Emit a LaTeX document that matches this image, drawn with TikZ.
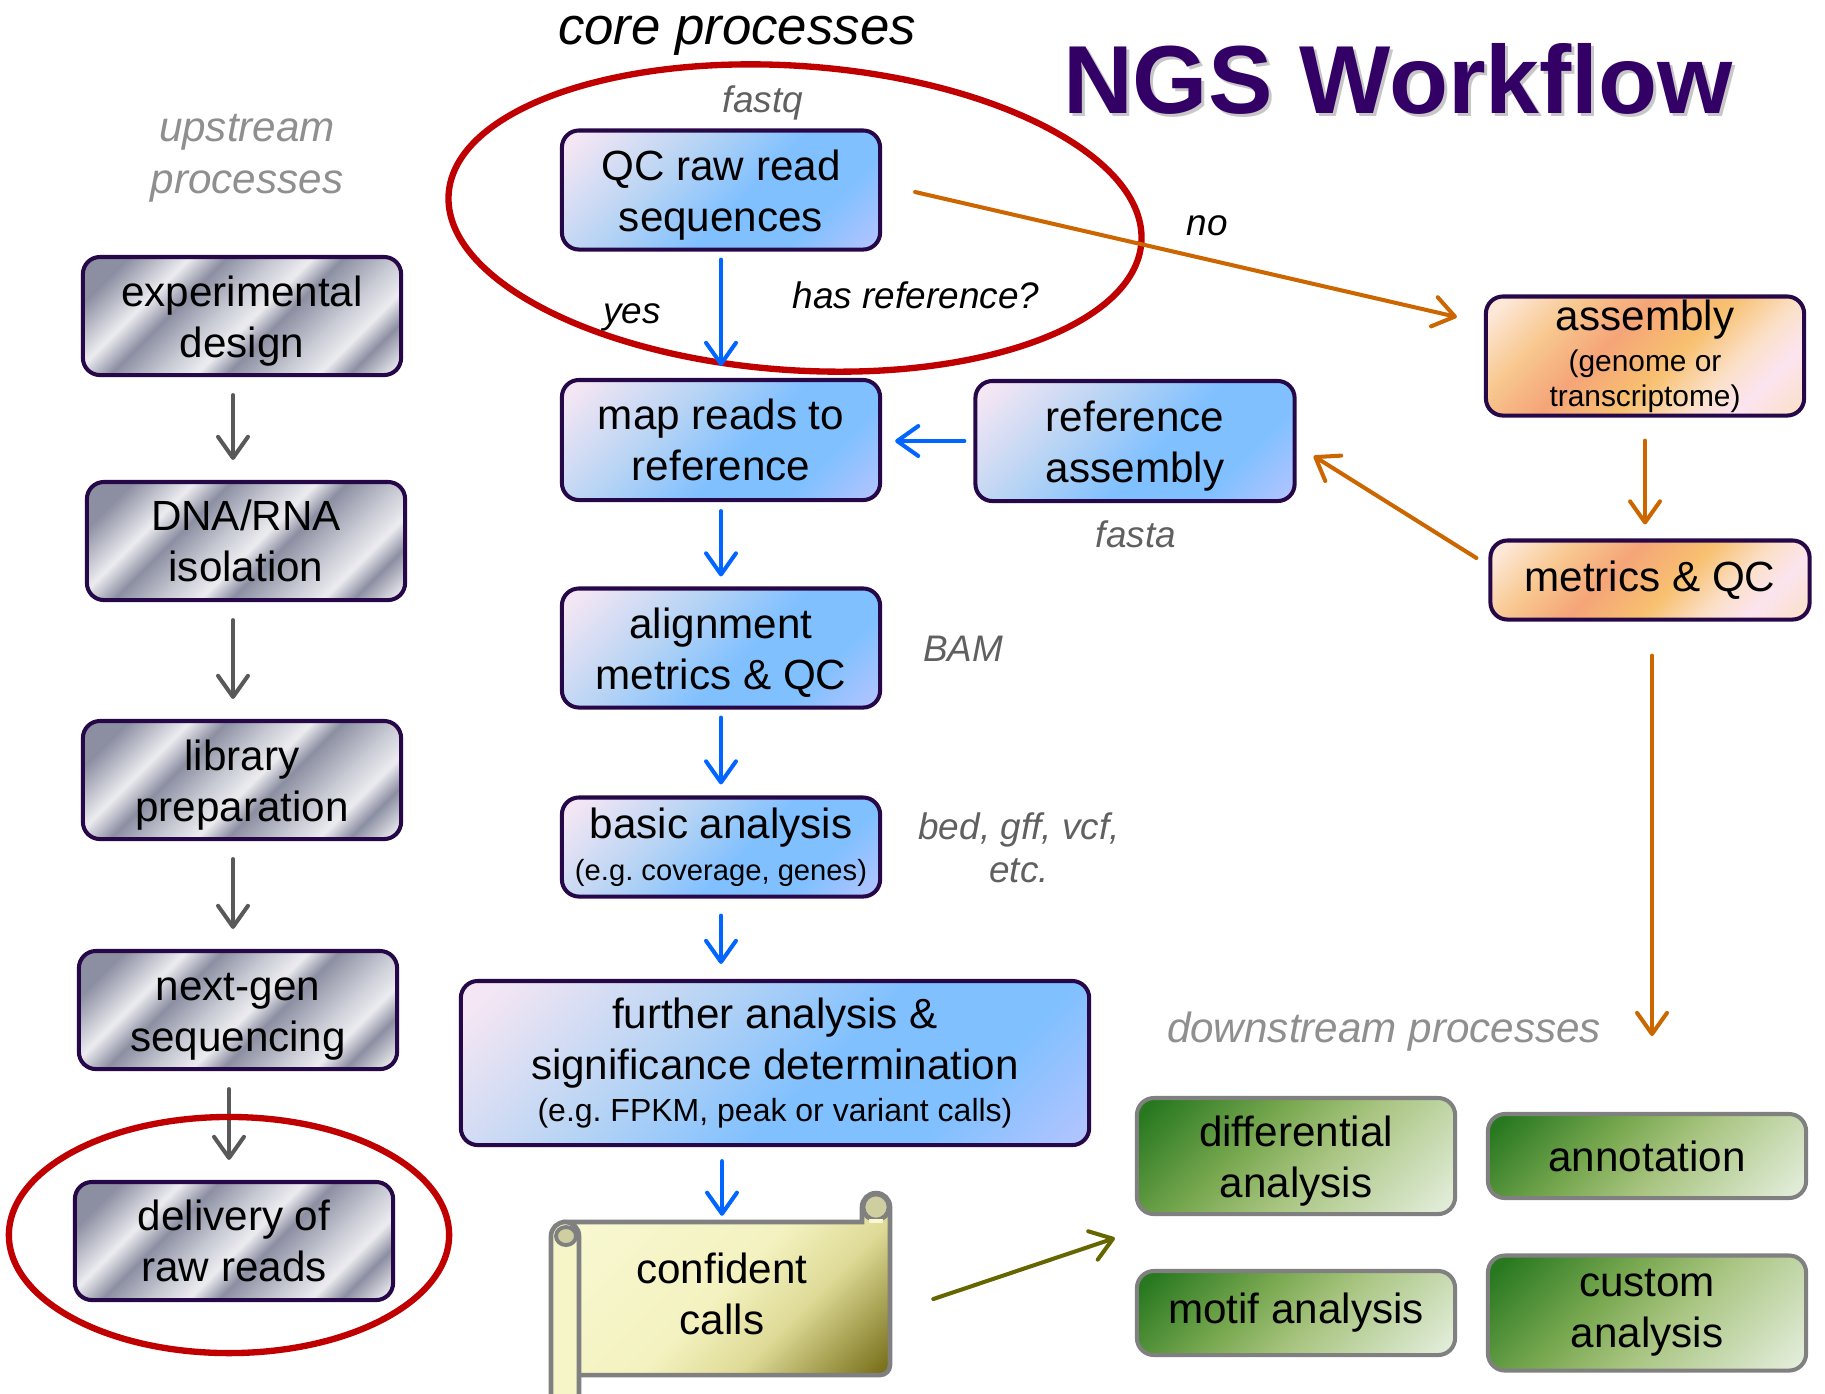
\documentclass[tikz,border=0pt]{standalone}
\usepackage{fontspec}
\setmainfont{Liberation Sans}
\usetikzlibrary{arrows.meta,calc}
\frenchspacing
\newcommand{\upsp}{\rule{0pt}{11.5pt}}

\definecolor{boxborder}{RGB}{38,8,72}
\definecolor{titlepurple}{RGB}{51,0,102}
\definecolor{redring}{RGB}{192,0,0}
\definecolor{arrgray}{RGB}{89,89,89}
\definecolor{arrblue}{RGB}{0,102,255}
\definecolor{arrorange}{RGB}{204,102,0}
\definecolor{arrolive}{RGB}{102,102,0}
\definecolor{lblgray}{RGB}{96,96,96}
\definecolor{lightlbl}{RGB}{143,143,143}
\definecolor{grayedge}{RGB}{128,128,128}
\definecolor{mA}{RGB}{140,143,162}
\definecolor{mM}{RGB}{200,202,212}
\definecolor{mL}{RGB}{236,236,240}
\definecolor{bP}{RGB}{244,230,244}
\definecolor{bM}{RGB}{184,212,244}
\definecolor{bB}{RGB}{128,192,255}
\definecolor{bL}{RGB}{176,196,255}
\definecolor{oA}{RGB}{253,232,216}
\definecolor{oB}{RGB}{248,200,144}
\definecolor{oC}{RGB}{245,165,120}
\definecolor{oD}{RGB}{248,192,112}
\definecolor{oE}{RGB}{252,228,240}
\definecolor{oF}{RGB}{251,224,200}
\definecolor{gA}{RGB}{40,120,32}
\definecolor{gB}{RGB}{120,168,80}
\definecolor{gC}{RGB}{168,196,128}
\definecolor{gD}{RGB}{228,238,220}
\definecolor{sA}{RGB}{248,248,210}
\definecolor{sB}{RGB}{244,242,192}
\definecolor{sC}{RGB}{222,218,150}
\definecolor{sD}{RGB}{120,112,26}
\definecolor{rollfill}{RGB}{245,245,200}
\definecolor{curlfill}{RGB}{206,206,160}

\pgfdeclarehorizontalshading{metalsh}{100bp}{color(0bp)=(mA); color(22bp)=(mA); color(32bp)=(mL); color(38bp)=(mA); color(46bp)=(mM); color(52bp)=(mL); color(57bp)=(mA); color(66bp)=(mM); color(72bp)=(mL); color(77bp)=(mA); color(84bp)=(mL); color(100bp)=(mL)}
\pgfdeclarehorizontalshading{bluesh}{100bp}{color(0bp)=(bP); color(18bp)=(bP); color(38bp)=(bM); color(55bp)=(bB); color(70bp)=(bB); color(84bp)=(bL); color(100bp)=(bL)}
\pgfdeclarehorizontalshading{orangesh}{100bp}{color(0bp)=(oA); color(18bp)=(oA); color(30bp)=(oB); color(42bp)=(oC); color(55bp)=(oD); color(66bp)=(oF); color(74bp)=(oE); color(84bp)=(oF); color(100bp)=(oF)}
\pgfdeclarehorizontalshading{greensh}{100bp}{color(0bp)=(gA); color(18bp)=(gA); color(40bp)=(gB); color(55bp)=(gC); color(84bp)=(gD); color(100bp)=(gD)}
\pgfdeclarehorizontalshading{scrollsh}{100bp}{color(0bp)=(sA); color(20bp)=(sA); color(50bp)=(sB); color(64bp)=(sC); color(84bp)=(sD); color(100bp)=(sD)}

\begin{document}
\begin{tikzpicture}[x=0.01cm,y=-0.01cm,
  box/.style={rounded corners=0.17cm, line width=1.15pt, draw=boxborder, inner sep=0pt,
    align=center, font=\fontsize{12}{14.5}\selectfont, shading angle=-45},
  metalbox/.style={box, shading=metalsh, shading angle=-45, minimum width=3.18cm, minimum height=1.18cm},
  bluebox/.style={box, shading=bluesh, shading angle=-45},
  orangebox/.style={box, shading=orangesh, shading angle=-45},
  greenbox/.style={box, draw=grayedge, shading=greensh, shading angle=-45, minimum width=3.18cm},
  arr/.style={line width=1.15pt, line cap=round, -{Straight Barb[length=6pt,width=8.5pt,round]}},
  garrow/.style={arr, draw=arrgray, shorten <=0.18cm, shorten >=0.2cm},
  barrow/.style={arr, draw=arrblue},
  oarrow/.style={arr, draw=arrorange},
  olarrow/.style={arr, draw=arrolive},
  lbl/.style={inner sep=0pt, anchor=base, font=\fontsize{10.5}{12.6}\selectfont\itshape},
  glbl/.style={lbl, text=lblgray},
  ring/.style={draw=redring, line width=1.8pt}
]
\useasboundingbox (0,0) rectangle (1825,1393);

% title
\node[inner sep=0pt, anchor=base, font=\fontsize{27.5}{30}\selectfont\bfseries, text=black!40, opacity=0.55] (titleshadow) at (1401,116) {NGS Workflow};
\node[inner sep=0pt, anchor=base, font=\fontsize{27.5}{30}\selectfont\bfseries, text=titlepurple] (title) at (1398,113) {NGS Workflow};

% section labels
\node[inner sep=0pt, anchor=base, font=\fontsize{15}{18}\selectfont\itshape] (lcore) at (737,44) {core processes};
\node[inner sep=0pt, align=center, text=lightlbl, font=\fontsize{12}{14.8}\selectfont\itshape] (lup) at (247,158) {upstream\\processes};
\node[inner sep=0pt, anchor=base, text=lightlbl, font=\fontsize{12}{14.5}\selectfont\itshape] (ldown) at (1384,1042) {downstream processes};

% upstream column
\node[metalbox] (exp) at (242,316) {\upsp experimental\\design};
\node[metalbox] (dna) at (246,541) {DNA/RNA\\isolation};
\node[metalbox] (lib) at (242,780) {\upsp library\\preparation};
\node[metalbox] (seq) at (238,1010) {\upsp next-gen\\sequencing};
\node[metalbox] (del) at (234,1241) {delivery of\\raw reads};

\draw[garrow] (233,0 |- exp.south) -- (233,0 |- dna.north);
\draw[garrow] (233,0 |- dna.south) -- (233,0 |- lib.north);
\draw[garrow] (233,0 |- lib.south) -- (233,0 |- seq.north);
\draw[garrow] (229,0 |- seq.south) -- (229,0 |- del.north);

\draw[ring] (229,1235) ellipse [x radius=2.2cm, y radius=1.18cm];

% core column
\node[bluebox, minimum width=3.18cm, minimum height=1.19cm] (qc) at (721,190) {\upsp QC raw read\\sequences};
\node[bluebox, minimum width=3.18cm, minimum height=1.2cm] (map) at (721,440) {map reads to\\reference};
\node[bluebox, minimum width=3.18cm, minimum height=1.19cm] (aln) at (721,648) {\upsp alignment\\metrics \& QC};
\node[bluebox, minimum width=3.18cm, minimum height=0.99cm] (basic) at (721,847) {basic analysis\\[-2.5pt]{\fontsize{8.3}{10}\selectfont (e.g. coverage, genes)}};
\node[bluebox, minimum width=6.28cm, minimum height=1.64cm] (further) at (775,1063) {further analysis \&\\significance determination\\[-2.3pt]{\fontsize{9.1}{10.5}\selectfont (e.g. FPKM, peak or variant calls)}};
\node[bluebox, minimum width=3.19cm, minimum height=1.2cm] (ref) at (1135,441) {\upsp reference\\assembly};

% right column
\node[orangebox, minimum width=3.18cm, minimum height=1.19cm] (asm) at (1645,356) {assembly\\[-2.8pt]{\fontsize{8.5}{10}\selectfont (genome or}\\[-4.5pt]{\fontsize{8.5}{10}\selectfont transcriptome)}};
\node[orangebox, minimum width=3.19cm, minimum height=0.79cm] (met) at (1650,580) {metrics \& QC};

% downstream boxes
\node[greenbox, minimum height=1.16cm] (diff) at (1296,1156) {\upsp differential\\analysis};
\node[greenbox, minimum height=0.84cm] (annot) at (1647,1156) {annotation};
\node[greenbox, minimum height=0.84cm] (motif) at (1296,1313) {motif analysis};
\node[greenbox, minimum height=1.15cm] (custom) at (1647,1313) {custom\\analysis};

% scroll
\draw[draw=grayedge, line width=1.3pt, shading=scrollsh, shading angle=-45]
  (565,1222) -- (862,1222) -- (862,1207) arc[start angle=180, end angle=0, radius=0.14cm]
  -- (890,1365) arc[start angle=0, end angle=-90, radius=0.1cm] -- (565,1375) -- cycle;
\draw[draw=grayedge, line width=1.3pt, fill=curlfill] (876,1207) circle[radius=0.13cm];
\fill[sA] (869,1219) rectangle (883,1223);
\draw[draw=grayedge, line width=1.3pt, fill=rollfill]
  (551,1420) -- (551,1236) arc[start angle=180, end angle=0, radius=0.14cm] -- (579,1420);
\draw[draw=grayedge, line width=1.1pt, fill=curlfill] (566,1236) ellipse[x radius=0.1cm, y radius=0.09cm];
\node[inner sep=0pt, align=center, minimum width=3.11cm, minimum height=1.45cm, font=\fontsize{12}{14.5}\selectfont] (calls) at (722,1294) {confident\\calls};

% rings
\draw[ring, rotate around={-4:(795,218)}] (795,218) ellipse [x radius=3.47cm, y radius=1.52cm];

% blue connectors
\draw[barrow, shorten <=0.08cm, shorten >=0.12cm] (qc.south) -- (map.north);
\draw[barrow, shorten <=0.09cm, shorten >=0.1cm] (map.south) -- (aln.north);
\draw[barrow, shorten <=0.08cm, shorten >=0.11cm] (aln.south) -- (basic.north);
\draw[barrow, shorten <=0.17cm, shorten >=0.15cm] (basic.south) -- (basic.south |- further.north);
\draw[barrow, shorten <=0.14cm, shorten >=0.05cm] (calls.north |- further.south) -- (calls.north);
\draw[barrow, shorten <=0.09cm, shorten >=0.13cm] (ref.west) -- (ref.west -| map.east);

% orange connectors
\draw[oarrow] ($(qc.east)+(33,2)$) -- ($(asm.west)+(-27,-39)$);
\draw[oarrow, shorten <=0.23cm, shorten >=0.14cm] (asm.south) -- (asm.south |- met.north);
\draw[oarrow] ($(met.west)+(-12,-22)$) -- ($(ref.east)+(17,15)$);
\coordinate (dsend) at (1652,1036);
\draw[oarrow, shorten <=0.34cm] (met.south -| dsend) -- (dsend);

% olive connector
\draw[olarrow] ($(calls.east)+(55,5)$) -- ($(diff.south west)+(-20,22)$);

% labels
\node[glbl] (lfastq) at (763,112) {fastq};
\node[glbl] (lfasta) at (1136,547) {fasta};
\node[glbl] (lbam) at (963,661) {BAM};
\node[glbl, anchor=north, align=center, font=\fontsize{10.5}{12.3}\selectfont\itshape] (lbed) at (1019,812) {bed, gff, vcf,\\etc.};
\node[lbl] (lyes) at (632,323) {yes};
\node[lbl] (lhas) at (916,308) {has reference?};
\node[lbl] (lno) at (1207,235) {no};
\end{tikzpicture}
\end{document}
